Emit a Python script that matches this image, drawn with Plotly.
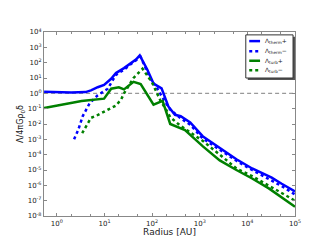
import plotly.graph_objects as go

# Λ_therm +
r_therm_pos = [0.54, 2.0, 4.0, 5.2, 7.2, 9.8, 13.8, 17.4, 25.7, 35.5, 45.7, 55, 79, 107, 158, 219, 302, 398, 631, 1150, 2630, 5890, 12600, 32400, 52500, 100000]
v_therm_pos = [1.26, 1.12, 1.2, 1.55, 2.5, 3.5, 8.9, 21, 44, 91, 160, 300, 36, 4.3, 2.1, 0.14, 0.04, 0.032, 0.0126, 1.6e-3, 2.8e-4, 5e-5, 1.26e-5, 3.2e-6, 1.26e-6, 4e-7]

# Λ_therm −
r_therm_neg = [2.3, 2.8, 3.5, 4.9, 7.2, 11.7, 17.4, 25.7, 35.5, 57.5, 93, 129, 178, 240, 389, 631, 1150, 2630, 5890, 12600, 28200, 52500, 100000]
v_therm_neg = [1e-3, 4e-3, 0.033, 0.23, 0.74, 2.0, 16, 35, 79, 234, 8.3, 2.0, 0.36, 0.087, 0.025, 8.9e-3, 1.15e-3, 2e-4, 4e-5, 1e-5, 2.5e-6, 8.9e-7, 2.5e-7]

# Λ_turb +
r_turb_pos = [0.54, 1.26, 3.3, 9.8, 13.8, 20, 25.7, 40.7, 57.5, 107, 166, 240, 490, 1150, 2630, 5890, 12600, 28200, 100000]
v_turb_pos = [0.11, 0.18, 0.32, 0.45, 2.0, 2.5, 1.8, 5.6, 4.0, 0.18, 0.32, 0.01, 4e-3, 3.6e-4, 4.2e-5, 1e-5, 2.8e-6, 6.3e-7, 4e-8]

# Λ_turb −
r_turb_neg = [3.4, 4.2, 5.2, 6.8, 11.7, 17.4, 22.4, 25.7, 40.7, 63, 100, 148, 209, 240, 389, 1150, 2630, 5890, 12600, 28200, 100000]
v_turb_neg = [2.5e-3, 7.9e-3, 0.025, 0.035, 0.087, 0.16, 0.4, 1.0, 10, 40, 5, 0.36, 0.063, 0.028, 7.9e-3, 8e-4, 1e-4, 1.26e-5, 4e-6, 1e-6, 1e-7]

x_range = [0.54, 1e5]
ref_level = 1.0

x_exponents = [0, 1, 2, 3, 4, 5]
y_exponents = list(range(-8, 5))
x_tickvals = [10.0 ** k for k in x_exponents]
x_ticktext = ["10<sup>%d</sup>" % k for k in x_exponents]
y_tickvals = [10.0 ** k for k in y_exponents]
y_ticktext = ["10<sup>%d</sup>" % k for k in y_exponents]

legend_names = ["Λ<sub>therm</sub>+", "Λ<sub>therm</sub>−", "Λ<sub>turb</sub>+", "Λ<sub>turb</sub>−"]

BLUE = "#0000ff"
GREEN = "#008000"
series = [
    (r_therm_pos, v_therm_pos, BLUE, "solid"),
    (r_therm_neg, v_therm_neg, BLUE, "3px,3px"),
    (r_turb_pos, v_turb_pos, GREEN, "solid"),
    (r_turb_neg, v_turb_neg, GREEN, "3px,3px"),
]

fig = go.Figure()
fig.add_trace(go.Scatter(x=x_range, y=[ref_level, ref_level], mode="lines",
                         line=dict(color="#999999", width=1.2, dash="4px,3px"),
                         showlegend=False, hoverinfo="skip"))
for (xs, ys, col, dash), name in zip(series, legend_names):
    fig.add_trace(go.Scatter(x=xs, y=ys, mode="lines", name=name, showlegend=False,
                             line=dict(color=col, width=2.5, dash=dash)))

# custom compact legend (plot-area paper coords)
W, H, L, T = 255.0, 192.0, 32.0, 24.0
def px(xp):
    return (xp - L) / W
def py(yp):
    return (T + H - yp) / H

bx0, bx1, by0, by1 = 237, 285, 27, 72
fig.add_shape(type="rect", xref="paper", yref="paper",
              x0=px(bx0 + 2), x1=px(bx1 + 2), y0=py(by1 + 2), y1=py(by0 + 2),
              fillcolor="#555555", line=dict(width=0), layer="above")
fig.add_shape(type="rect", xref="paper", yref="paper",
              x0=px(bx0), x1=px(bx1), y0=py(by1), y1=py(by0),
              fillcolor="white", line=dict(color="#333333", width=1), layer="above")
entry_y = [33.5, 44, 54, 64]
for (xs, ys, col, dash), name, ey in zip(series, legend_names, entry_y):
    fig.add_shape(type="line", xref="paper", yref="paper",
                  x0=px(240.5), x1=px(251.5), y0=py(ey), y1=py(ey),
                  line=dict(color=col, width=2.5, dash=dash), layer="above")
    fig.add_annotation(xref="paper", yref="paper", x=px(254), y=py(ey),
                       xanchor="left", yanchor="middle", showarrow=False,
                       text=name, font=dict(size=6, color="#222222"))

axis_common = dict(showline=True, linecolor="#888888", linewidth=1.2, mirror="allticks",
                   ticks="inside", tickcolor="#888888", ticklen=3, showgrid=False, zeroline=False,
                   tickfont=dict(size=7, color="#222222"))

fig.update_xaxes(type="log", range=[-0.27, 5.0], tickvals=x_tickvals, ticktext=x_ticktext,
                 title=dict(text="Radius [AU]", font=dict(size=9, color="#222222"), standoff=2),
                 minor=dict(ticks="inside", ticklen=1.5, tickcolor="#888888"),
                 **axis_common)
fig.update_yaxes(type="log", range=[-8, 4], tickvals=y_tickvals, ticktext=y_ticktext,
                 title=dict(text="Λ/4πGρ<sub>0</sub>δ", font=dict(size=8, color="#222222"), standoff=2),
                 **axis_common)

fig.update_layout(
    width=320, height=240,
    margin=dict(l=32, r=33, t=24, b=24),
    paper_bgcolor="white", plot_bgcolor="white",
    font=dict(family="DejaVu Sans", size=7, color="#222222"),
    showlegend=False,
)

fig.write_html("out.html")
